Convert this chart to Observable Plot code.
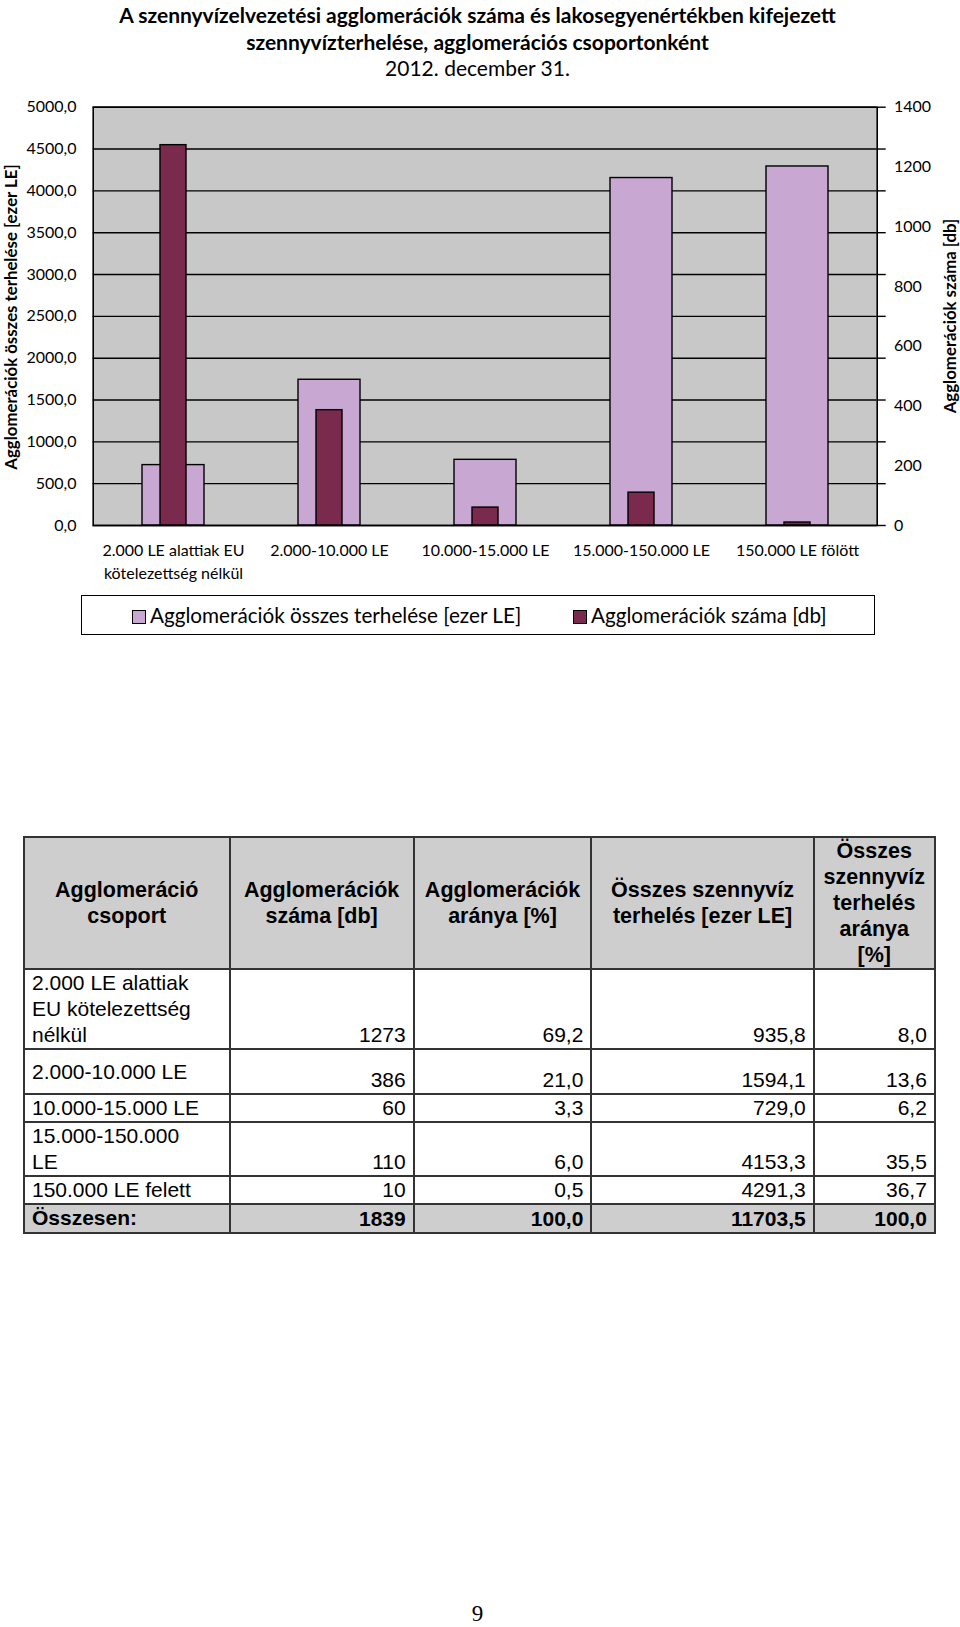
<!DOCTYPE html>
<html>
<head>
<meta charset="utf-8">
<script src="https://cdn.jsdelivr.net/npm/d3@7"></script>
<script src="https://cdn.jsdelivr.net/npm/@observablehq/plot@0.6"></script>
<style>
  html, body { margin: 0; padding: 0; background: #fff; }
  #page { position: relative; width: 960px; height: 1627px; overflow: hidden; font-family: Lato, "Open Sans", sans-serif; color: #000; }
  .title { position: absolute; left: 0; width: 955px; text-align: center; font-size: 21px; line-height: 26px; }
  .b { font-weight: bold; }
  .axtitle { position: absolute; font-weight: bold; font-size: 16.8px; white-space: nowrap; transform: translate(-50%, -50%) rotate(-90deg); }
  #legend { position: absolute; left: 81px; top: 595px; width: 792px; height: 38px; border: 1.5px solid #000; font-size: 20.7px; }
  .li { position: absolute; top: 0; line-height: 38px; white-space: nowrap; }
  .sw { display: inline-block; width: 12px; height: 12px; border: 1px solid #000; margin-right: 4px; vertical-align: -1px; }
  #chart { position: absolute; left: 0; top: 80px; }
  table { position: absolute; left: 23px; top: 836px; border-collapse: collapse; table-layout: fixed; font-family: "Liberation Sans", Arial, sans-serif; font-size: 21px; line-height: 26px; }
  td, th { border: 2px solid #333; padding: 0 7px; }
  th { background: #cecece; font-weight: bold; text-align: center; vertical-align: middle; padding: 0 2px; font-size: 21.5px; }
  td.g { text-align: left; vertical-align: middle; }
  td.n { text-align: right; vertical-align: bottom; }
  tr.tot td { background: #cecece; font-weight: bold; }
  #pnum { position: absolute; left: 0; width: 955px; top: 1601px; text-align: center; font-family: "Liberation Serif", "DejaVu Serif", serif; font-size: 23px; }
</style>
</head>
<body>
<div id="page">
  <div class="title b" style="top:2px">A szennyvízelvezetési agglomerációk száma és lakosegyenértékben kifejezett</div>
  <div class="title b" style="top:28.5px">szennyvízterhelése, agglomerációs csoportonként</div>
  <div class="title" style="top:55px">2012. december 31.</div>
  <div id="chart"></div>
  <div class="axtitle" style="left:10px; top:317px">Agglomerációk összes terhelése [ezer LE]</div>
  <div class="axtitle" style="left:949px; top:316px">Agglomerációk száma [db]</div>
  <div id="legend">
    <div class="li" style="left:50px"><span class="sw" style="background:#c8a8d2"></span>Agglomerációk összes terhelése [ezer LE]</div>
    <div class="li" style="left:491px"><span class="sw" style="background:#7a2a4c"></span>Agglomerációk száma [db]</div>
  </div>
  <div id="tbl"></div>
  <div id="pnum">9</div>
</div>
<script>
// ---- chart data ----
const categories = ["2.000 LE alattiak EU\nkötelezettség nélkül", "2.000-10.000 LE", "10.000-15.000 LE", "15.000-150.000 LE", "150.000 LE fölött"];
const loadValues = [722, 1742, 785, 4153.3, 4291.3];   // ezer LE (left axis)
const countValues = [1273, 386, 60, 110, 10];          // db (right axis)
const leftTicks = [0, 500, 1000, 1500, 2000, 2500, 3000, 3500, 4000, 4500, 5000];
const rightTicks = [0, 200, 400, 600, 800, 1000, 1200, 1400];

// ---- table data ----
const tableHeaders = ["Agglomeráció<br>csoport", "Agglomerációk<br>száma [db]", "Agglomerációk<br>aránya [%]", "Összes szennyvíz<br>terhelés [ezer LE]", "Összes<br>szennyvíz<br>terhelés<br>aránya<br>[%]"];
const tableGroups = ["2.000 LE alattiak<br>EU kötelezettség<br>nélkül", "2.000-10.000 LE", "10.000-15.000 LE", "15.000-150.000<br>LE", "150.000 LE felett"];
const tableCounts = ["1273", "386", "60", "110", "10"];
const tableCountShare = ["69,2", "21,0", "3,3", "6,0", "0,5"];
const tableLoad = ["935,8", "1594,1", "729,0", "4153,3", "4291,3"];
const tableLoadShare = ["8,0", "13,6", "6,2", "35,5", "36,7"];
const tableTotal = ["Összesen:", "1839", "100,0", "11703,5", "100,0"];

const leftMax = leftTicks[leftTicks.length - 1];
const rightMax = rightTicks[rightTicks.length - 1];
const k = leftMax / rightMax;

const data = categories.map((c, i) => ({cat: c, load: loadValues[i], count: countValues[i] * k}));

const light = "#c8a8d2", dark = "#7a2a4c";

const chart = Plot.plot({
  width: 960,
  height: 510,
  marginLeft: 92.7,
  marginRight: 83.3,
  marginTop: 26.7,
  marginBottom: 65,
  style: {fontFamily: "Lato, sans-serif", fontSize: "16px", color: "#000", background: "transparent", overflow: "visible"},
  x: {domain: categories, padding: 0, label: null},
  y: {domain: [0, leftMax], label: null},
  marks: [
    Plot.frame({fill: "#c8c8c8", stroke: null}),
    Plot.ruleY(leftTicks, {stroke: "#000", strokeWidth: 1.4}),
    Plot.axisY(leftTicks, {anchor: "right", tickSize: 8, tickFormat: () => "", label: null, strokeWidth: 1.4}),
    Plot.barY(data, {x: "cat", y: "load", fill: light, stroke: "#000", strokeWidth: 1.4, insetLeft: 47, insetRight: 47}),
    Plot.barY(data, {x: "cat", y: "count", fill: dark, stroke: "#000", strokeWidth: 1.4, insetLeft: 65, insetRight: 65}),
    Plot.frame({stroke: "#000", strokeWidth: 1.6}),
    Plot.axisY(leftTicks, {anchor: "left", tickSize: 0, tickPadding: 16.7, label: null, tickFormat: d => d.toFixed(1).replace(".", ",")}),
    Plot.axisY(rightTicks.map(v => v * k), {anchor: "right", tickSize: 0, tickPadding: 16.7, label: null, tickFormat: d => String(Math.round(d / k))}),
    Plot.axisX({tickSize: 0, tickPadding: 14, label: null, lineHeight: 1.45})
  ]
});
document.getElementById("chart").appendChild(chart);

// ---- table ----
const colW = [205.5, 184.2, 177.7, 222.3, 121.2];
const rowH = [76.5, 45, 28, 52, 28];
let html = "<table><colgroup>" + colW.map(w => `<col style="width:${w}px">`).join("") + "</colgroup>";
html += `<tr style="height:128.5px">` + tableHeaders.map(h => `<th>${h}</th>`).join("") + "</tr>";
tableGroups.forEach((g, i) => {
  html += `<tr style="height:${rowH[i]}px"><td class="g">${g}</td><td class="n">${tableCounts[i]}</td><td class="n">${tableCountShare[i]}</td><td class="n">${tableLoad[i]}</td><td class="n">${tableLoadShare[i]}</td></tr>`;
});
html += `<tr class="tot" style="height:28.5px"><td class="g">${tableTotal[0]}</td>` + tableTotal.slice(1).map(v => `<td class="n">${v}</td>`).join("") + "</tr>";
html += "</table>";
document.getElementById("tbl").innerHTML = html;
</script>
</body>
</html>
